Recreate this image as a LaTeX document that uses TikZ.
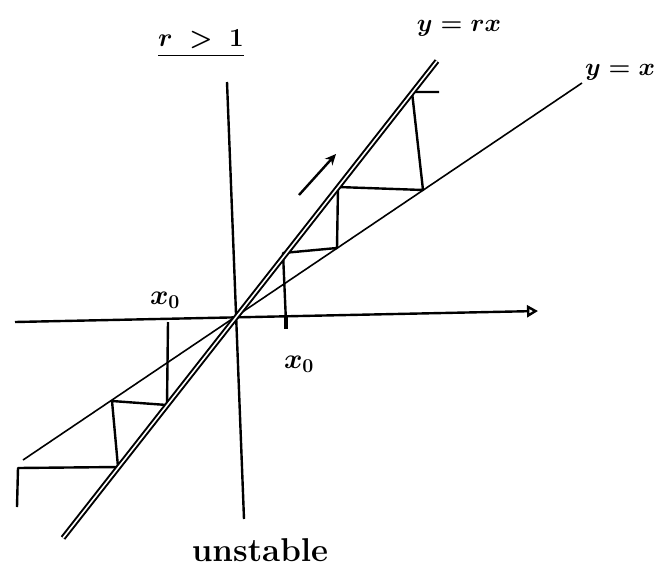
\documentclass[tikz,border=0pt]{standalone}
\usepackage{fix-cm}
\usepackage{amsmath}
\usetikzlibrary{arrows.meta}
\tikzset{
  axisline/.style={draw=black,line width=2.4pt},
  diagline/.style={draw=black,line width=1.6pt},
  mapline/.style={draw=black,line width=2pt,double=white,double distance=1.6pt},
  webline/.style={draw=black,line width=2.4pt,line join=round},
  lbl/.style={inner sep=0pt,font=\fontsize{25}{27}\selectfont\boldmath}
}

\begin{document}
\begin{tikzpicture}[
  x=1pt,y=-1pt,
  axistip/.style={-{Triangle[open,length=11pt,width=12pt,line width=2.4pt]}},
  flowarrow/.style={-{Stealth[length=11pt,width=10pt]},draw=black,line width=2.4pt},
  startmark/.style={draw=black,line width=4pt}
]
  \useasboundingbox (0,0) rectangle (669,576);
  \coordinate (O) at (233,321);
  \coordinate (xL) at (15,322);
  \coordinate (xR) at (538,311);
  \coordinate (yT) at (227,82);
  \coordinate (yB) at (244,519);
  \coordinate (idB) at (23,460);
  \coordinate (idT) at (582,83);
  \coordinate (rxB) at (63,538);
  \coordinate (rxT) at (437,61);

  \coordinate (r0) at (286,322);
  \coordinate (r1) at (283,253);
  \coordinate (r2) at (337,248);
  \coordinate (r3) at (338,187);
  \coordinate (r4) at (423,190);
  \coordinate (r5) at (412,92);
  \coordinate (r6) at (439,92);
  \coordinate (l0) at (168,322);
  \coordinate (l1) at (167,405);
  \coordinate (l2) at (112,401);
  \coordinate (l3) at (118,467);
  \coordinate (l4) at (18,468);
  \coordinate (l5) at (17,507);
  \coordinate (a0) at (299,195);
  \coordinate (a1) at (336,154);

  \draw[axisline,axistip] (xL)--(xR);
  \draw[axisline] (yT)--(yB);
  \draw[diagline] (idB)--(idT);
  \draw[webline] (r0)--(r1)--(r2)--(r3)--(r4)--(r5)--(r6);
  \draw[webline] (l0)--(l1)--(l2)--(l3)--(l4)--(l5);
  \draw[startmark] ([yshift=7pt]r0)--([yshift=-7pt]r0);
  \draw[mapline] (rxB)--(rxT);
  \draw[flowarrow] (a0)--(a1);

  \node[lbl,font=\fontsize{26}{28}\selectfont\boldmath] (cond) at (201,43)
    {\underline{$r\;>\;1$\vphantom{g}}};
  \node[lbl] (rxlbl) at (459,28) {$y=rx$};
  \node[lbl] (idlbl) at (620,72) {$y=x$};
  \node[lbl,font=\fontsize{28}{30}\selectfont\boldmath] (xleft) at (165,300) {$x_0$};
  \node[lbl,font=\fontsize{28}{30}\selectfont\boldmath] (xright) at (299,364) {$x_0$};
  \node[lbl,font=\fontsize{33}{35}\selectfont\bfseries] (unst) at (260,550) {unstable};
\end{tikzpicture}
\end{document}
